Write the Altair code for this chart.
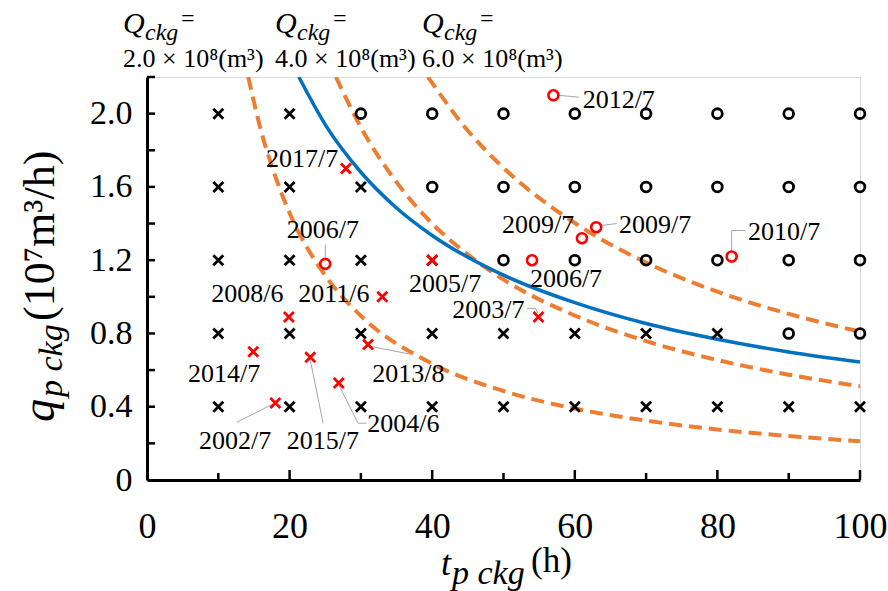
import altair as alt
import pandas as pd

FONT = "Liberation Serif"
W, H = 713, 403

# ---------------- data ----------------
grid_t = [10, 20, 30, 40, 50, 60, 70, 80, 90, 100]
grid_q = [2.0, 1.6, 1.2, 0.8, 0.4]
grid_kind = ["xxoooooooo", "xxxooooooo", "xxxxoooooo", "xxxxxxxxoo", "xxxxxxxxxx"]

ev_label = ["2012/7", "2017/7", "2006/7", "2005/7", "2011/6", "2008/6", "2014/7", "2015/7",
            "2013/8", "2004/6", "2002/7", "2006/7", "2003/7", "2009/7", "2009/7", "2010/7"]
ev_t = [57.0, 27.9, 25.0, 40.0, 33.0, 19.9, 14.9, 22.9, 31.0, 26.9, 18.0, 54.0, 54.9, 61.0, 63.0, 82.0]
ev_q = [2.10, 1.70, 1.18, 1.20, 1.00, 0.89, 0.70, 0.67, 0.74, 0.53, 0.42, 1.20, 0.89, 1.32, 1.38, 1.22]
ev_kind = ["o", "x", "o", "x", "x", "x", "x", "x", "x", "x", "x", "o", "x", "o", "o", "o"]
lab_t = [61.1, 16.7, 19.6, 36.75, 21.2, 9.0, 5.75, 19.6, 31.6, 30.9, 7.3, 53.7, 42.8, 49.8, 66.2, 84.3]
lab_q = [2.033, 1.711, 1.323, 1.025, 0.970, 0.970, 0.534, 0.169, 0.534, 0.262, 0.169, 1.052, 0.883, 1.351, 1.351, 1.308]

leader_id = [1, 1, 3, 3, 8, 8, 9, 9, 10, 10, 10, 11, 11, 13, 13, 13, 15, 15, 16, 16, 16]
leader_t = [57.7, 60.6, 25.0, 25.0, 22.9, 24.7, 31.3, 36.9, 26.9, 29.6, 30.8, 17.7, 12.6,
            53.3, 54.5, 54.8, 63.8, 65.9, 82.0, 82.0, 83.9]
leader_q = [2.10, 2.09, 1.285, 1.215, 0.655, 0.31, 0.73, 0.687, 0.52, 0.31, 0.31, 0.415, 0.316,
            0.937, 0.937, 0.91, 1.39, 1.40, 1.245, 1.362, 1.362]

q2_t = [14.2, 16, 18, 20, 25, 30, 40, 50, 60, 70, 80, 90, 100]
q2_q = [2.2, 1.906, 1.657, 1.458, 1.116, 0.896, 0.635, 0.486, 0.390, 0.324, 0.276, 0.240, 0.211]
q4_t = [26.5, 30, 35, 40, 45, 50, 60, 70, 80, 90, 100]
q4_q = [2.2, 1.925, 1.626, 1.40, 1.231, 1.094, 0.898, 0.758, 0.655, 0.575, 0.512]
q6_t = [39.4, 45, 50, 60, 70, 80, 90, 100]
q6_q = [2.2, 1.907, 1.704, 1.403, 1.187, 1.028, 0.907, 0.81]
blue_t = [21.3, 25, 30, 35, 40, 50, 60, 70, 80, 90, 100]
blue_q = [2.2, 1.94, 1.68, 1.485, 1.335, 1.118, 0.968, 0.854, 0.768, 0.699, 0.644]

x_major = [20, 40, 60, 80, 100]
x_minor = [10, 30, 50, 70, 90]
y_ticks = [0.2, 0.4, 0.6, 0.8, 1.0, 1.2, 1.4, 1.6, 1.8, 2.0, 2.2]
x_labels = [0, 20, 40, 60, 80, 100]
y_labels = [0, 0.4, 0.8, 1.2, 1.6, 2.0]

# ---------------- tables ----------------
rows = []
for qv, kinds in zip(grid_q, grid_kind):
    for tv, k in zip(grid_t, kinds):
        rows.append({"t": tv, "q": qv, "kind": k})
df_grid = pd.DataFrame(rows)
df_ev = pd.DataFrame({"t": ev_t, "q": ev_q, "kind": ev_kind})
df_lab = pd.DataFrame({"t": lab_t, "q": lab_q, "label": ev_label})
df_lead = pd.DataFrame({"t": leader_t, "q": leader_q, "seg": leader_id,
                        "ord": list(range(len(leader_t)))})

xs = alt.Scale(domain=[0, 100], nice=False, zero=False)
ys = alt.Scale(domain=[0, 2.2], nice=False, zero=False)
x_axis = alt.Axis(values=x_labels, format="d", title=None, grid=False, ticks=False, tickSize=0,
                  labelFont=FONT, labelFontSize=36, labelColor="black", labelPadding=29,
                  labelFlush=False, labelOverlap=False,
                  domainColor="black", domainWidth=3)
y_axis = alt.Axis(values=y_labels, title=None, grid=False, ticks=False, tickSize=0,
                  labelExpr="datum.value == 0 ? '0' : format(datum.value, '.1f')",
                  labelFont=FONT, labelFontSize=34, labelColor="black", labelPadding=15,
                  labelFlush=False, labelOverlap=False,
                  domainColor="black", domainWidth=3)
X = lambda f="t": alt.X(f"{f}:Q", scale=xs, axis=x_axis)
Y = lambda f="q": alt.Y(f"{f}:Q", scale=ys, axis=y_axis)

XPATH = "M-1,-1L1,1M-1,1L1,-1"

def curve(ts, qs, color, dash=None, width=4):
    kw = dict(color=color, strokeWidth=width, interpolate="monotone", clip=True)
    if dash:
        kw["strokeDash"] = dash
    return alt.Chart(pd.DataFrame({"t": ts, "q": qs})).mark_line(**kw).encode(x=X(), y=Y())

layers = []
layers.append(curve(q2_t, q2_q, "#ED7D31", [13, 7], 4))
layers.append(curve(q4_t, q4_q, "#ED7D31", [13, 7], 4))
layers.append(curve(q6_t, q6_q, "#ED7D31", [13, 7], 4))
layers.append(curve(blue_t, blue_q, "#0070C0", None, 3.5))

layers.append(alt.Chart(df_grid).transform_filter("datum.kind == 'x'").mark_point(
    shape=XPATH, size=100, color="black", strokeWidth=2.8, filled=False, opacity=1
).encode(x=X(), y=Y()))
layers.append(alt.Chart(df_grid).transform_filter("datum.kind == 'o'").mark_point(
    shape="circle", size=95, color="black", strokeWidth=2.8, filled=False, opacity=1
).encode(x=X(), y=Y()))

layers.append(alt.Chart(df_lead).mark_line(color="#A6A6A6", strokeWidth=1).encode(
    x=X(), y=Y(), detail="seg:N", order="ord:Q"))

layers.append(alt.Chart(df_ev).transform_filter("datum.kind == 'x'").mark_point(
    shape=XPATH, size=100, color="#FF0000", strokeWidth=2.8, filled=False, opacity=1
).encode(x=X(), y=Y()))
layers.append(alt.Chart(df_ev).transform_filter("datum.kind == 'o'").mark_point(
    shape="circle", size=100, color="#FF0000", strokeWidth=2.6, filled=False, opacity=1
).encode(x=X(), y=Y()))

layers.append(alt.Chart(df_lab).mark_text(
    align="left", baseline="alphabetic", font=FONT, fontSize=26, color="black"
).encode(x=X(), y=Y(), text="label:N"))

# inward ticks
layers.append(alt.Chart(pd.DataFrame({"t": x_major})).mark_rule(color="black", strokeWidth=2.5).encode(
    x=X(), y=alt.value(H), y2=alt.value(H - 10)))
layers.append(alt.Chart(pd.DataFrame({"t": x_minor})).mark_rule(color="black", strokeWidth=2.5).encode(
    x=X(), y=alt.value(H), y2=alt.value(H - 7)))
layers.append(alt.Chart(pd.DataFrame({"q": y_ticks})).mark_rule(color="black", strokeWidth=2.5).encode(
    y=Y(), x=alt.value(0), x2=alt.value(8)))

# ---------------- text annotations ----------------
one = pd.DataFrame({"a": [0]})

def txt(s, x, y, size, italic=False, angle=0):
    kw = dict(text=s, align="left", baseline="alphabetic", font=FONT, fontSize=size, color="black")
    if italic:
        kw["fontStyle"] = "italic"
    if angle:
        kw["angle"] = angle
    return alt.Chart(one).mark_text(**kw).encode(x=alt.value(x), y=alt.value(y))

ox, oy = 147, 77
q_vals = ["2.0", "4.0", "6.0"]
for x0, v in zip([123, 275, 422], q_vals):
    layers.append(txt("Q", x0 - ox, 33 - oy, 30, italic=True))
    layers.append(txt("ckg", x0 + 22 - ox, 40 - oy, 24, italic=True))
    layers.append(txt("=", x0 + 58 - ox, 26 - oy, 24))
    layers.append(txt(f"{v} × 10⁸(m³)", x0 - ox, 67 - oy, 26))

# x title
layers.append(txt("t", 441 - ox, 575 - oy, 36, italic=True))
layers.append(txt("p ckg", 452 - ox, 584 - oy, 34, italic=True))
layers.append(txt("(h)", 531 - ox, 572 - oy, 35))

# y title (rotated)
layers.append(txt("q", 54 - ox, 422 - oy, 46, italic=True, angle=270))
layers.append(txt("p ckg", 62 - ox, 397 - oy, 34, italic=True, angle=270))
layers.append(txt("(10⁷m³/h)", 54 - ox, 321 - oy, 44, angle=270))

chart = alt.layer(*layers).properties(
    width=W, height=H,
    autosize=alt.AutoSizeParams(type="none"),
    padding={"left": 147, "top": 77, "right": 28, "bottom": 111},
    background="white",
).configure_view(stroke="#D9D9D9", strokeWidth=1)

chart.save("out.html", embed_options={"renderer": "svg", "actions": False})
